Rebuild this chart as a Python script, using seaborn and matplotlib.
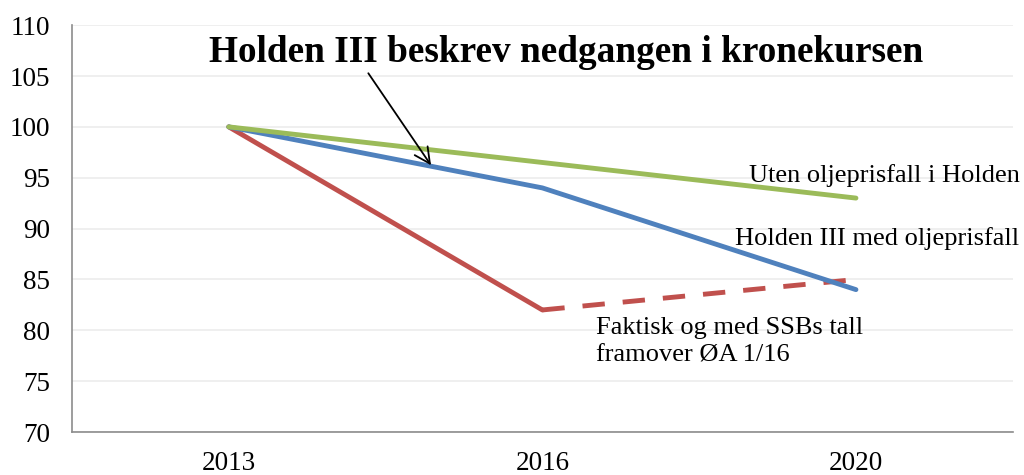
import matplotlib
matplotlib.use("Agg")
import matplotlib.pyplot as plt
import pandas as pd
import seaborn as sns

# data
years = ["2013", "2016", "2020"]
uten_olje = [100, 96.5, 93]
holden_olje = [100, 94, 84]
faktisk = [100, 82]          # 2013-2016, solid
ssb_framover = [82, 85]      # 2016-2020, dashed

sns.set_theme(style="white")
plt.rcParams["font.family"] = ["Liberation Serif", "DejaVu Serif"]
plt.rcParams["text.color"] = "black"
plt.rcParams["xtick.color"] = "black"
plt.rcParams["ytick.color"] = "black"

rows = []
for i, v in enumerate(uten_olje):
    rows.append({"pos": i, "verdi": v, "serie": "uten"})
for i, v in enumerate(holden_olje):
    rows.append({"pos": i, "verdi": v, "serie": "holden"})
for i, v in enumerate(faktisk):
    rows.append({"pos": i, "verdi": v, "serie": "faktisk"})
for i, v in enumerate(ssb_framover):
    rows.append({"pos": i + 1, "verdi": v, "serie": "ssb"})
df = pd.DataFrame(rows)

colors = {"uten": "#9bbb59", "holden": "#4f81bd", "faktisk": "#c0504d", "ssb": "#c0504d"}

fig = plt.figure(figsize=(10.24, 4.75), dpi=100)
ax = fig.add_axes([0.0703, 0.0905, 0.9187, 0.8565])

for serie in ["faktisk", "ssb", "holden", "uten"]:
    sub = df[df["serie"] == serie]
    sns.lineplot(
        data=sub, x="pos", y="verdi", ax=ax, color=colors[serie], linewidth=3.5,
        linestyle=(0, (4.6, 3.7)) if serie == "ssb" else "-",
        solid_capstyle="round", dash_capstyle="butt", legend=False,
    )

ax.set_xlim(-0.5, 2.5)
ax.set_ylim(70, 110)
ax.set_yticks(range(70, 111, 5))
ax.set_xticks([0, 1, 2])
ax.set_xticklabels(years)
ax.set_xticks([-0.5, 0.5, 1.5, 2.5], minor=True)
ax.tick_params(axis="x", which="major", length=0, labelsize=19.5, pad=14)
ax.tick_params(axis="x", which="minor", length=6, width=1, color="#8c8c8c", direction="out")
ax.tick_params(axis="y", length=6, width=1, color="#8c8c8c", direction="out", labelsize=19.5, pad=9.5)
ax.set_xlabel("")
ax.set_ylabel("")

ax.grid(axis="y", color="#ececec", linewidth=1.2)
ax.set_axisbelow(True)
for side in ["top", "right"]:
    ax.spines[side].set_visible(False)
for side in ["left", "bottom"]:
    ax.spines[side].set_color("#8c8c8c")
    ax.spines[side].set_linewidth(1.2)

ax.text(1.077, 107.35, "Holden III beskrev nedgangen i kronekursen",
        ha="center", va="center", fontsize=26.8, fontweight="bold")
ax.annotate("", xy=(0.65, 96.0), xytext=(0.44, 105.5),
            arrowprops=dict(arrowstyle="->", color="black", lw=1.3, mutation_scale=28))

ax.text(2.524, 95.2, "Uten oljeprisfall i Holden", ha="right", va="center", fontsize=19)
ax.text(2.52, 89.0, "Holden III med oljeprisfall", ha="right", va="center", fontsize=19)
ax.text(1.17, 81.3, "Faktisk og med SSBs tall\nframover ØA 1/16", ha="left", va="top",
        fontsize=19, linespacing=1.3)

fig.savefig("out.png", dpi=100)
